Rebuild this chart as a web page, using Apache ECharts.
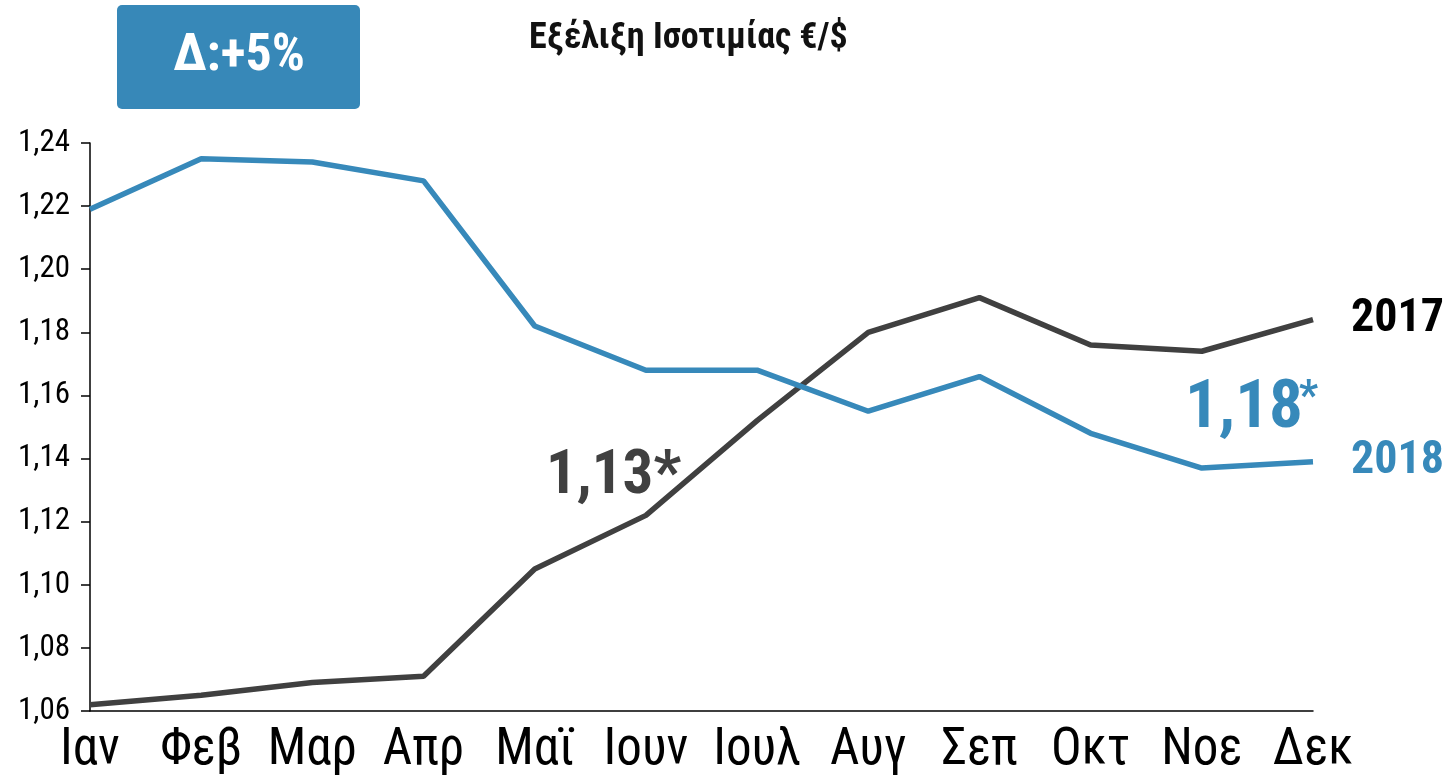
<!DOCTYPE html>
<html>
<head>
<meta charset="utf-8">
<script src="https://cdn.jsdelivr.net/npm/echarts@6/dist/echarts.min.js"></script>
<style>
  html, body { margin: 0; padding: 0; background: #fff; }
</style>
</head>
<body>
<div id="main" style="width: 1450px; height: 776px;"></div>
<script>
// μήνες
const months = ['Ιαν', 'Φεβ', 'Μαρ', 'Απρ', 'Μαϊ', 'Ιουν', 'Ιουλ', 'Αυγ', 'Σεπ', 'Οκτ', 'Νοε', 'Δεκ'];
const rate2017 = [1.062, 1.065, 1.069, 1.071, 1.105, 1.122, 1.152, 1.180, 1.191, 1.176, 1.174, 1.184];
const rate2018 = [1.219, 1.235, 1.234, 1.228, 1.182, 1.168, 1.168, 1.155, 1.166, 1.148, 1.137, 1.139];
const yMin = 1.06, yMax = 1.24, yStep = 0.02;

const FONT = "'Roboto Condensed', 'Liberation Sans Narrow', 'DejaVu Sans Condensed', Roboto, sans-serif";
const BLUE = '#3789ba';
const GREY = '#404040';

const myChart = echarts.init(document.getElementById('main'));
const option = {
  animation: false,
  title: {
    text: 'Εξέλιξη Ισοτιμίας €/$',
    left: 524,
    top: 16,
    textStyle: {
      fontFamily: FONT,
      fontWeight: 'bold',
      fontSize: 36,
      color: '#111'
    }
  },
  grid: {
    left: 90,
    right: 137,
    top: 143,
    bottom: 65,
    outerBoundsMode: 'none'
  },
  xAxis: {
    type: 'category',
    boundaryGap: false,
    data: months,
    axisTick: { show: false },
    axisLine: { lineStyle: { color: '#000', width: 1.5 } },
    axisLabel: {
      interval: 0,
      hideOverlap: false,
      fontFamily: FONT,
      fontSize: 51,
      color: '#000',
      margin: 15
    }
  },
  yAxis: {
    type: 'value',
    min: yMin,
    max: yMax,
    interval: yStep,
    splitLine: { show: false },
    axisLine: { show: true, lineStyle: { color: '#000', width: 1.5 } },
    axisTick: { show: true, length: 9, lineStyle: { color: '#000', width: 1.5 } },
    axisLabel: {
      fontFamily: FONT,
      fontSize: 31,
      color: '#000',
      margin: 20,
      formatter: v => v.toFixed(2).replace('.', ',')
    }
  },
  series: [
    {
      name: '2017',
      type: 'line',
      data: rate2017,
      symbol: 'none',
      lineStyle: { color: GREY, width: 5.5 },
      itemStyle: { color: GREY },
      endLabel: {
        show: true,
        formatter: '{a}',
        distance: 38,
        fontFamily: FONT,
        fontWeight: 'bold',
        fontSize: 46,
        color: '#000'
      }
    },
    {
      name: '2018',
      type: 'line',
      data: rate2018,
      symbol: 'none',
      lineStyle: { color: BLUE, width: 5.5 },
      itemStyle: { color: BLUE },
      endLabel: {
        show: true,
        formatter: '{a}',
        distance: 38,
        fontFamily: FONT,
        fontWeight: 'bold',
        fontSize: 46,
        color: BLUE
      }
    }
  ],
  graphic: [
    {
      type: 'rect',
      left: 117,
      top: 5,
      shape: { width: 243, height: 104, r: 5 },
      style: { fill: '#3788b8' }
    },
    {
      type: 'text',
      style: {
        text: 'Δ:+5%',
        x: 239,
        y: 57,
        align: 'center',
        verticalAlign: 'middle',
        fill: '#fff',
        font: "bold 52px " + FONT
      }
    },
    {
      type: 'text',
      style: {
        text: '1,13*',
        x: 546,
        y: 478,
        verticalAlign: 'middle',
        fill: GREY,
        font: "bold 61px " + FONT
      }
    },
    {
      type: 'text',
      style: {
        text: '1,18',
        x: 1185,
        y: 410,
        verticalAlign: 'middle',
        fill: BLUE,
        font: "bold 67px " + FONT
      }
    },
    {
      type: 'text',
      style: {
        text: '*',
        x: 1299,
        y: 398,
        verticalAlign: 'middle',
        fill: BLUE,
        font: "bold 42px " + FONT
      }
    }
  ]
};
myChart.setOption(option);
</script>
</body>
</html>
